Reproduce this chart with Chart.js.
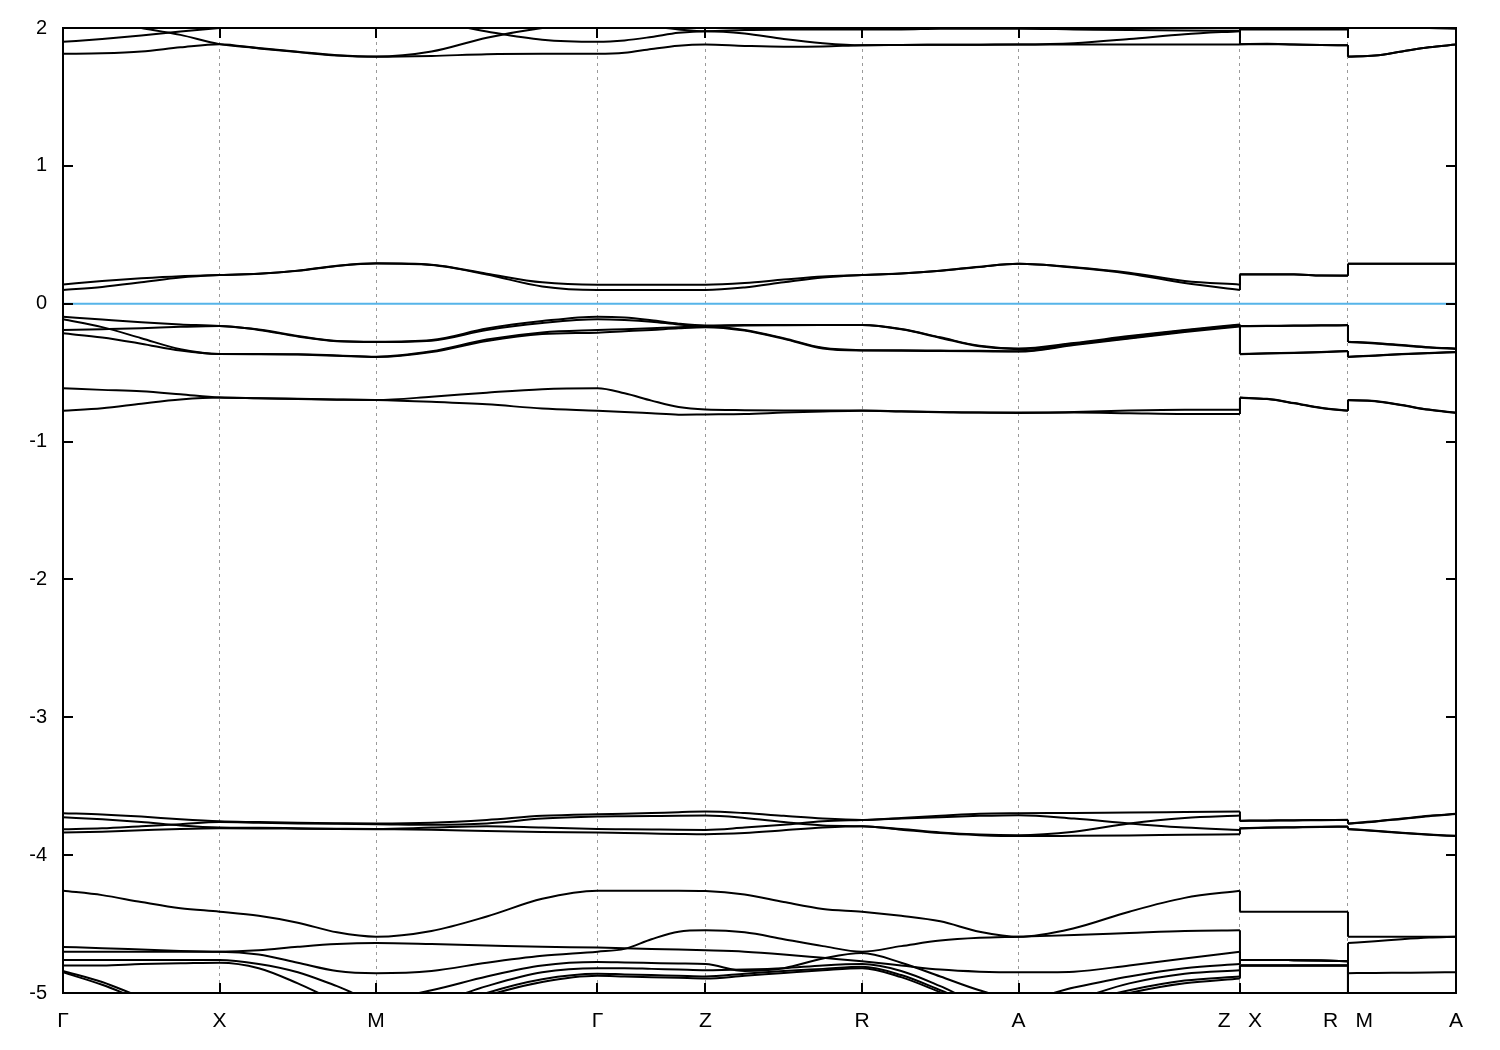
<!DOCTYPE html>
<html><head><meta charset="utf-8">
<script src="https://cdn.jsdelivr.net/npm/chart.js@4.4.0/dist/chart.umd.min.js"></script>
<style>html,body{margin:0;padding:0;background:#fff}#wrap{width:1500px;height:1050px}</style>
</head><body><div id="wrap"><canvas id="c" width="1500" height="1050"></canvas></div>
<script>
// k-path coordinate of every sampled point (Γ-X-M-Γ-Z-R-A-Z | X-R | M-A)
const kPath = [0, 0.25, 0.5, 0.75, 1,
  1.25, 1.5, 1.75, 2,
  2.354, 2.707, 3.061, 3.414,
  3.587, 3.759, 3.932, 4.104,
  4.354, 4.604, 4.854, 5.104,
  5.354, 5.604, 5.854, 6.104,
  6.458, 6.811, 7.165, 7.518,
  7.518, 7.691, 7.863, 8.036, 8.208,
  8.208, 8.381, 8.553, 8.726, 8.898];
const tickPos = [0, 1, 2, 3.414, 4.104, 5.104, 6.104, 7.518, 8.208, 8.898];
const tickLabels = ['Γ', 'X', 'M', 'Γ', 'Z', 'R', 'A', 'Z   X', 'R   M', 'A'];
const yTicks = [-5, -4, -3, -2, -1, 0, 1, 2];
const fermiLevel = 0;

const bandB1 = [1.813,1.817,1.83,1.86,1.883, 1.852,1.825,1.80,1.791, 1.797,1.81,1.813,1.813, 1.82,1.848,1.872,1.88, 1.87,1.864,1.866,1.875, 1.877,1.878,1.879,1.88, 1.88,1.88,1.88,1.88, 1.883,1.885,1.88,1.877,1.875, 1.791,1.80,1.83,1.86,1.88];
const bandB2 = [1.90,1.92,1.945,1.975,2.00, 2.03,2.06,2.08,2.09, 2.05,1.975,1.915,1.90, 1.91,1.935,1.965,1.977, 1.96,1.92,1.89,1.875, 1.877,1.878,1.879,1.88, 1.89,1.92,1.955,1.977, 1.99,1.99,1.99,1.99,1.99, 2.05,2.03,2.01,2.0,1.995];
const bandB3 = [2.1,2.05,2.0,1.95,1.883, 1.855,1.828,1.803,1.793, 1.83,1.93,2.0,2.04, 2.03,2.01,1.99,1.977, 1.985,1.99,1.99,1.99, 1.99,1.995,1.995,1.995, 1.99,1.985,1.982,1.98, 1.883,1.883,1.88,1.877,1.875, 1.793,1.80,1.83,1.86,1.88];
const bandC1 = [0.140,0.165,0.185,0.200,0.208, 0.218,0.24,0.275,0.293, 0.283,0.218,0.155,0.138, 0.138,0.138,0.138,0.138, 0.15,0.175,0.198,0.208, 0.22,0.24,0.268,0.29, 0.265,0.225,0.165,0.138, 0.213,0.213,0.213,0.205,0.204, 0.29,0.29,0.29,0.29,0.29];
const bandC2 = [0.099,0.122,0.155,0.19,0.208, 0.217,0.239,0.274,0.292, 0.281,0.212,0.125,0.099, 0.099,0.099,0.099,0.099, 0.118,0.155,0.19,0.208, 0.219,0.239,0.267,0.289, 0.262,0.218,0.15,0.099, 0.212,0.212,0.212,0.204,0.203, 0.289,0.289,0.289,0.289,0.289];
const bandVa = [-0.094,-0.115,-0.135,-0.150,-0.162, -0.187,-0.234,-0.27,-0.275, -0.263,-0.18,-0.126,-0.094, -0.10,-0.12,-0.145,-0.158, -0.155,-0.155,-0.155,-0.155, -0.183,-0.244,-0.305,-0.325, -0.285,-0.235,-0.19,-0.150, -0.162,-0.160,-0.158,-0.157,-0.155, -0.275,-0.285,-0.30,-0.315,-0.325];
const bandVb = [-0.113,-0.17,-0.25,-0.33,-0.365, -0.365,-0.367,-0.375,-0.384, -0.345,-0.26,-0.208,-0.191, -0.185,-0.178,-0.17,-0.165, -0.19,-0.25,-0.32,-0.337, -0.338,-0.340,-0.342,-0.345, -0.295,-0.248,-0.20,-0.160, -0.365,-0.36,-0.355,-0.35,-0.343, -0.384,-0.375,-0.365,-0.357,-0.350];
const bandVc = [-0.191,-0.185,-0.178,-0.168,-0.162, -0.19,-0.238,-0.272,-0.278, -0.268,-0.19,-0.14,-0.113, -0.118,-0.13,-0.15,-0.163, -0.158,-0.156,-0.155,-0.155, -0.186,-0.248,-0.309,-0.33, -0.29,-0.24,-0.195,-0.155, -0.164,-0.162,-0.160,-0.158,-0.157, -0.278,-0.288,-0.303,-0.318,-0.328];
const bandVd = [-0.215,-0.245,-0.29,-0.34,-0.365, -0.366,-0.369,-0.377,-0.386, -0.35,-0.27,-0.22,-0.21, -0.20,-0.19,-0.178,-0.17, -0.195,-0.255,-0.325,-0.340, -0.341,-0.343,-0.345,-0.347, -0.30,-0.252,-0.205,-0.165, -0.367,-0.362,-0.357,-0.352,-0.345, -0.386,-0.377,-0.367,-0.359,-0.352];
const bandVe = [-0.614,-0.625,-0.635,-0.657,-0.681, -0.685,-0.69,-0.695,-0.698, -0.675,-0.645,-0.62,-0.614, -0.65,-0.703,-0.75,-0.768, -0.772,-0.774,-0.775,-0.775, -0.78,-0.785,-0.79,-0.79, -0.785,-0.775,-0.77,-0.77, -0.681,-0.69,-0.72,-0.755,-0.775, -0.698,-0.705,-0.735,-0.768,-0.79];
const bandVf = [-0.776,-0.758,-0.725,-0.695,-0.681, -0.686,-0.691,-0.696,-0.699, -0.712,-0.73,-0.76,-0.776, -0.785,-0.795,-0.805,-0.803, -0.80,-0.79,-0.782,-0.777, -0.782,-0.787,-0.79,-0.792, -0.79,-0.795,-0.80,-0.80, -0.683,-0.692,-0.722,-0.757,-0.777, -0.70,-0.707,-0.737,-0.77,-0.792];
const bandG1 = [-3.696,-3.705,-3.72,-3.74,-3.755, -3.76,-3.765,-3.768,-3.77, -3.765,-3.745,-3.715,-3.703, -3.70,-3.695,-3.688,-3.684, -3.695,-3.715,-3.735,-3.745, -3.73,-3.715,-3.70,-3.696, -3.694,-3.69,-3.687,-3.684, -3.75,-3.748,-3.746,-3.745,-3.744, -3.77,-3.755,-3.735,-3.715,-3.70];
const bandG2 = [-3.725,-3.74,-3.76,-3.785,-3.80, -3.802,-3.805,-3.808,-3.81, -3.80,-3.79,-3.80,-3.81, -3.812,-3.814,-3.816,-3.817, -3.80,-3.78,-3.755,-3.745, -3.735,-3.725,-3.715,-3.71, -3.735,-3.77,-3.80,-3.817, -3.805,-3.80,-3.797,-3.794,-3.792, -3.81,-3.823,-3.837,-3.85,-3.86];
const bandG3 = [-3.812,-3.805,-3.79,-3.775,-3.76, -3.765,-3.77,-3.773,-3.775, -3.78,-3.77,-3.735,-3.72, -3.718,-3.716,-3.714,-3.713, -3.73,-3.76,-3.785,-3.79, -3.81,-3.835,-3.85,-3.855, -3.83,-3.77,-3.73,-3.713, -3.752,-3.75,-3.748,-3.746,-3.745, -3.772,-3.757,-3.737,-3.717,-3.702];
const bandG4 = [-3.836,-3.83,-3.82,-3.81,-3.805, -3.806,-3.808,-3.81,-3.812, -3.815,-3.825,-3.832,-3.836, -3.84,-3.843,-3.846,-3.848, -3.84,-3.82,-3.80,-3.79, -3.815,-3.84,-3.855,-3.862, -3.86,-3.857,-3.852,-3.848, -3.807,-3.802,-3.799,-3.796,-3.794, -3.812,-3.825,-3.84,-3.852,-3.862];
const bandH1 = [-4.258,-4.29,-4.34,-4.385,-4.41, -4.44,-4.49,-4.56,-4.592, -4.55,-4.445,-4.317,-4.258, -4.258,-4.258,-4.258,-4.26, -4.285,-4.34,-4.39,-4.41, -4.44,-4.48,-4.555,-4.592, -4.53,-4.41,-4.31,-4.258, -4.41,-4.41,-4.41,-4.41,-4.41, -4.592,-4.592,-4.592,-4.592,-4.592];
const bandK1 = [-4.666,-4.675,-4.685,-4.695,-4.70, -4.69,-4.665,-4.645,-4.638, -4.645,-4.655,-4.665,-4.67, -4.675,-4.68,-4.685,-4.69, -4.70,-4.72,-4.745,-4.77, -4.80,-4.83,-4.845,-4.85, -4.845,-4.80,-4.75,-4.70, -4.76,-4.76,-4.762,-4.765,-4.77, -4.856,-4.855,-4.853,-4.851,-4.85];
const bandK2 = [-4.70,-4.70,-4.70,-4.70,-4.70, -4.72,-4.78,-4.84,-4.856, -4.84,-4.78,-4.73,-4.70, -4.68,-4.61,-4.555,-4.545, -4.56,-4.61,-4.66,-4.70, -4.66,-4.62,-4.60,-4.592, -4.58,-4.565,-4.55,-4.545, -4.76,-4.76,-4.762,-4.765,-4.77, -4.638,-4.625,-4.61,-4.598,-4.592];
const bandK3 = [-4.76,-4.76,-4.76,-4.76,-4.76, -4.79,-4.85,-4.95,-5.05, -4.98,-4.88,-4.80,-4.775, -4.778,-4.782,-4.786,-4.79, -4.84,-4.82,-4.75,-4.71, -4.78,-4.88,-4.98,-5.05, -4.96,-4.88,-4.82,-4.79, -4.76,-4.76,-4.762,-4.765,-4.77, -5.1,-5.1,-5.1,-5.1,-5.1];
const bandK4 = [-4.80,-4.80,-4.79,-4.785,-4.78, -4.82,-4.93,-5.06,-5.15, -5.08,-4.95,-4.85,-4.82, -4.82,-4.825,-4.83,-4.835, -4.83,-4.82,-4.80,-4.79, -4.84,-4.95,-5.08,-5.15, -5.05,-4.93,-4.86,-4.835, -4.80,-4.80,-4.80,-4.80,-4.80, -5.2,-5.2,-5.2,-5.2,-5.2];
const bandK5 = [-4.84,-4.92,-5.03,-5.12,-5.2, -5.25,-5.25,-5.25,-5.25, -5.15,-5.0,-4.90,-4.86, -4.865,-4.87,-4.875,-4.88, -4.86,-4.84,-4.825,-4.81, -4.87,-4.98,-5.1,-5.2, -5.08,-4.98,-4.91,-4.88, -4.80,-4.80,-4.80,-4.80,-4.80, -5.25,-5.25,-5.25,-5.25,-5.25];
const bandK6 = [-4.85,-4.94,-5.05,-5.14,-5.22, -5.27,-5.27,-5.27,-5.27, -5.17,-5.02,-4.92,-4.875, -4.88,-4.885,-4.89,-4.895, -4.875,-4.855,-4.835,-4.82, -4.885,-4.995,-5.11,-5.22, -5.1,-5.0,-4.93,-4.895, -4.80,-4.80,-4.80,-4.80,-4.80, -5.27,-5.27,-5.27,-5.27,-5.27];

const bands = [bandB1, bandB2, bandB3, bandC1, bandC2, bandVa, bandVb, bandVc, bandVd, bandVe, bandVf,
  bandG1, bandG2, bandG3, bandG4, bandH1, bandK1, bandK2, bandK3, bandK4, bandK5, bandK6];

const pieces = [[0, 28], [29, 33], [34, 38]];
const jumps = [[28, 29], [33, 34]];
const lineStyle = { borderColor: '#000', borderWidth: 2, pointRadius: 0, fill: false };
const datasets = [];
datasets.push({ data: [{ x: kPath[0], y: fermiLevel }, { x: kPath[kPath.length - 1], y: fermiLevel }],
  borderColor: '#56B4E9', borderWidth: 2, pointRadius: 0, fill: false, tension: 0 });
bands.forEach(b => {
  pieces.forEach(([i0, i1]) => {
    const d = [];
    for (let i = i0; i <= i1; i++) d.push({ x: kPath[i], y: b[i] });
    datasets.push(Object.assign({ data: d, cubicInterpolationMode: 'monotone' }, lineStyle));
  });
  jumps.forEach(([i0, i1]) => {
    datasets.push(Object.assign({ data: [{ x: kPath[i0], y: b[i0] }, { x: kPath[i1], y: b[i1] }], tension: 0 }, lineStyle));
  });
});

const framePlugin = {
  id: 'frame',
  afterDraw(chart) {
    const { ctx, chartArea: a, scales: { x, y } } = chart;
    ctx.save();
    ctx.strokeStyle = '#000';
    ctx.lineWidth = 2;
    ctx.strokeRect(a.left, a.top, a.right - a.left, a.bottom - a.top);
    ctx.beginPath();
    const L = 10;
    yTicks.forEach(v => {
      const p = Math.round(y.getPixelForValue(v));
      ctx.moveTo(a.left, p); ctx.lineTo(a.left + L, p);
      ctx.moveTo(a.right, p); ctx.lineTo(a.right - L, p);
    });
    tickPos.forEach(v => {
      const p = Math.round(x.getPixelForValue(v));
      ctx.moveTo(p, a.bottom); ctx.lineTo(p, a.bottom - L);
      ctx.moveTo(p, a.top); ctx.lineTo(p, a.top + L);
    });
    ctx.stroke();
    ctx.restore();
  }
};

new Chart(document.getElementById('c'), {
  type: 'line',
  data: { datasets },
  options: {
    responsive: false, devicePixelRatio: 1, animation: false, events: [],
    layout: { padding: { left: 0, top: 28, right: 44, bottom: 0 } },
    plugins: { legend: { display: false }, tooltip: { enabled: false } },
    scales: {
      x: {
        type: 'linear', min: 0, max: 8.898,
        afterBuildTicks: s => { s.ticks = tickPos.map(v => ({ value: v })); },
        afterFit: s => { s.height = 57; },
        ticks: { autoSkip: false, maxRotation: 0, padding: 16, color: '#000',
          font: { family: 'Liberation Sans', size: 21 },
          callback: (v, i) => tickLabels[i] },
        grid: { display: true, drawTicks: false, color: '#9a9a9a', lineWidth: 1 },
        border: { display: false, dash: [3, 4] }
      },
      y: {
        type: 'linear', min: -5, max: 2,
        afterBuildTicks: s => { s.ticks = yTicks.map(v => ({ value: v })); },
        afterFit: s => { s.width = 63; },
        ticks: { padding: 16, color: '#000', font: { family: 'Liberation Sans', size: 20 },
          callback: v => String(v) },
        grid: { display: false, drawTicks: false },
        border: { display: false }
      }
    }
  },
  plugins: [framePlugin]
});
</script></body></html>
